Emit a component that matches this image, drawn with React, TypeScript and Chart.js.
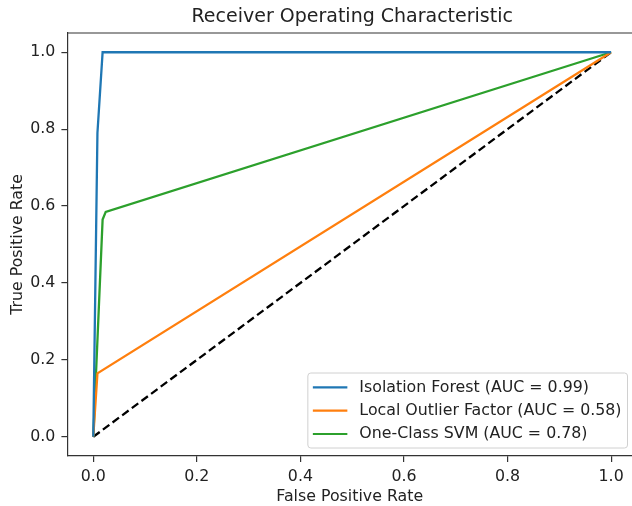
import React, { useEffect, useRef } from "react";
import { Chart, registerables } from "chart.js";

Chart.register(...registerables);

const titleText = "Receiver Operating Characteristic";
const xAxisTitle = "False Positive Rate";
const yAxisTitle = "True Positive Rate";
const tickValues = [0, 0.2, 0.4, 0.6, 0.8, 1.0];
const tickLabels = ["0.0", "0.2", "0.4", "0.6", "0.8", "1.0"];

const seriesNames = [
  "Isolation Forest (AUC = 0.99)",
  "Local Outlier Factor (AUC = 0.58)",
  "One-Class SVM (AUC = 0.78)",
];
const seriesColors = ["#1f77b4", "#ff7f0e", "#2ca02c"];

const iforestFpr = [0, 0.008, 0.018, 1.0];
const iforestTpr = [0, 0.79, 1.0, 1.0];
const lofFpr = [0, 0.008, 1.0];
const lofTpr = [0, 0.165, 1.0];
const ocsvmFpr = [0, 0.018, 0.024, 1.0];
const ocsvmTpr = [0, 0.565, 0.585, 1.0];
const chanceFpr = [0, 1];
const chanceTpr = [0, 1];

const FONT = "'DejaVu Sans', sans-serif";
const TICK_SIZE = 15.8;
const TITLE_SIZE = 19;
const TEXT_COLOR = "#222";
const SPINE = "#333";
const CANVAS_W = 632;
const CANVAS_H = 506;
// x axis is cut by the right edge of the picture (axes would end at 1.05)
const X_MIN = -0.05;
const X_MAX = 1.0403;

const zip = (xs: number[], ys: number[]) => xs.map((x, i) => ({ x, y: ys[i] }));

const framePlugin = {
  id: "frame",
  afterDraw(chart: any) {
    const { ctx, chartArea } = chart;
    ctx.save();
    ctx.strokeStyle = SPINE;
    ctx.lineWidth = 1.2;
    ctx.beginPath();
    ctx.moveTo(chartArea.left, chartArea.top);
    ctx.lineTo(chart.width, chartArea.top);
    ctx.stroke();
    const fullRight = chart.scales.x.getPixelForValue(1.05);
    ctx.fillStyle = TEXT_COLOR;
    ctx.font = `${TITLE_SIZE}px ${FONT}`;
    ctx.textAlign = "center";
    ctx.textBaseline = "middle";
    ctx.fillText(titleText, (chartArea.left + fullRight) / 2, 17);
    ctx.restore();
  },
};

const legendPlugin = {
  id: "boxLegend",
  afterDraw(chart: any) {
    const { ctx, chartArea } = chart;
    const items = chart.data.datasets.filter((d: any) => !d.hideInLegend);
    ctx.save();
    ctx.font = `${TICK_SIZE}px ${FONT}`;
    let maxW = 0;
    items.forEach((d: any) => {
      maxW = Math.max(maxW, ctx.measureText(d.label).width);
    });
    const fullRight = chart.scales.x.getPixelForValue(1.05);
    const right = fullRight - 9.5;
    const bottom = chartArea.bottom - 8;
    const rowH = 23.3;
    const h = 75;
    const w = 51.5 + maxW + 6;
    const left = right - w;
    const top = bottom - h;
    ctx.beginPath();
    const r = 3;
    ctx.moveTo(left + r, top);
    ctx.lineTo(right - r, top);
    ctx.quadraticCurveTo(right, top, right, top + r);
    ctx.lineTo(right, bottom - r);
    ctx.quadraticCurveTo(right, bottom, right - r, bottom);
    ctx.lineTo(left + r, bottom);
    ctx.quadraticCurveTo(left, bottom, left, bottom - r);
    ctx.lineTo(left, top + r);
    ctx.quadraticCurveTo(left, top, left + r, top);
    ctx.closePath();
    ctx.fillStyle = "rgba(255,255,255,0.85)";
    ctx.fill();
    ctx.strokeStyle = "#d0d0d0";
    ctx.lineWidth = 1;
    ctx.stroke();
    items.forEach((d: any, i: number) => {
      const cy = bottom - 14 - (items.length - 1 - i) * rowH;
      ctx.strokeStyle = d.borderColor;
      ctx.lineWidth = 2.2;
      ctx.beginPath();
      ctx.moveTo(left + 5, cy);
      ctx.lineTo(left + 39.5, cy);
      ctx.stroke();
      ctx.fillStyle = TEXT_COLOR;
      ctx.textBaseline = "middle";
      ctx.textAlign = "left";
      ctx.fillText(d.label, left + 51.5, cy);
    });
    ctx.restore();
  },
};

const setTicks = (scale: any) => {
  scale.ticks = tickValues.map((v) => ({ value: v }));
};

const makeAxis = (title: string, titlePad: any, tickPad: number, min: number, max: number, fit: (s: any) => void) => ({
  type: "linear" as const,
  min,
  max,
  afterBuildTicks: setTicks,
  afterFit: fit,
  ticks: {
    font: { family: FONT, size: TICK_SIZE },
    color: TEXT_COLOR,
    padding: tickPad,
    callback: (v: number) => {
      const i = tickValues.findIndex((t) => Math.abs(t - v) < 1e-9);
      return i >= 0 ? tickLabels[i] : "";
    },
  },
  grid: {
    display: true,
    drawOnChartArea: false,
    drawTicks: true,
    tickLength: 6,
    color: SPINE,
    tickColor: SPINE,
    lineWidth: 1.2,
  },
  border: { display: true, color: SPINE, width: 1.2 },
  title: {
    display: true,
    text: title,
    font: { family: FONT, size: TICK_SIZE },
    color: TEXT_COLOR,
    padding: titlePad,
  },
});

export default function App() {
  const ref = useRef<HTMLCanvasElement>(null);
  useEffect(() => {
    if (!ref.current) return;
    const lineDs = (label: string, color: string, xs: number[], ys: number[]) => ({
      label,
      data: zip(xs, ys),
      borderColor: color,
      backgroundColor: color,
      borderWidth: 2.3,
      pointRadius: 0,
      fill: false,
      tension: 0,
    });
    const chart = new Chart(ref.current, {
      type: "line",
      data: {
        datasets: [
          lineDs(seriesNames[0], seriesColors[0], iforestFpr, iforestTpr),
          lineDs(seriesNames[1], seriesColors[1], lofFpr, lofTpr),
          lineDs(seriesNames[2], seriesColors[2], ocsvmFpr, ocsvmTpr),
          {
            label: "chance",
            hideInLegend: true,
            data: zip(chanceFpr, chanceTpr),
            borderColor: "#000",
            borderWidth: 2.3,
            borderDash: [8, 4],
            pointRadius: 0,
            fill: false,
          } as any,
        ],
      },
      options: {
        responsive: false,
        animation: false,
        layout: { padding: { top: 33, left: 0, right: 0, bottom: 0 } },
        plugins: {
          legend: { display: false },
          tooltip: { enabled: false },
          title: { display: false },
        },
        scales: {
          x: makeAxis(xAxisTitle, { top: 0, bottom: 0 }, 5, X_MIN, X_MAX, (s: any) => {
            s.height = 50;
          }),
          y: makeAxis(yAxisTitle, { top: 8, bottom: 0 }, 6, -0.05, 1.05, (s: any) => {
            s.width = 67.4;
          }),
        },
      } as any,
      plugins: [framePlugin, legendPlugin],
    });
    return () => chart.destroy();
  }, []);
  return (
    <div
      style={{
        position: "absolute",
        left: 0,
        top: 0,
        width: CANVAS_W,
        height: CANVAS_H,
        overflow: "hidden",
        background: "#fff",
      }}
    >
      <canvas ref={ref} width={CANVAS_W} height={CANVAS_H} style={{ display: "block" }} />
    </div>
  );
}
